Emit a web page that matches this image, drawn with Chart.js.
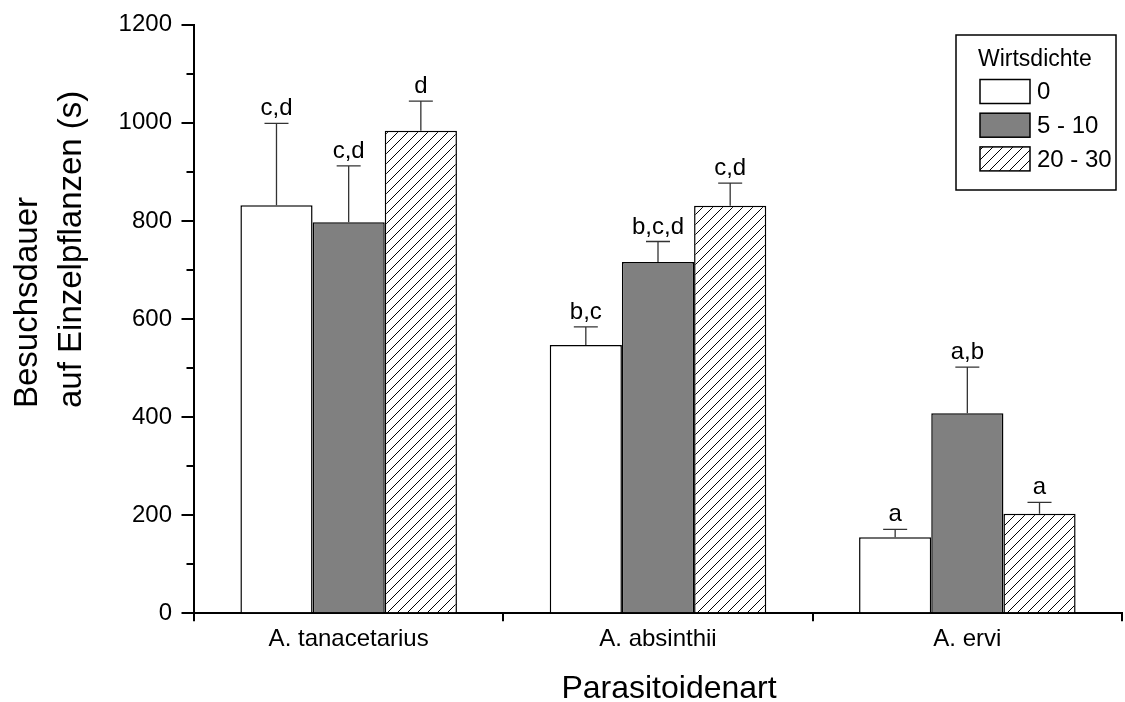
<!DOCTYPE html>
<html><head><meta charset="utf-8">
<script src="https://cdn.jsdelivr.net/npm/chart.js@4.4.0/dist/chart.umd.min.js"></script>
<style>html,body{margin:0;padding:0;background:#fff;overflow:hidden}#wrap{width:1125px;height:702px}</style>
</head><body><div id="wrap"><canvas id="c" width="1125" height="702"></canvas></div>
<script>
// ---- data ----
const categories = ['A. tanacetarius', 'A. absinthii', 'A. ervi'];
const seriesNames = ['0', '5 - 10', '20 - 30'];
const means0 = [832, 547, 155];
const means510 = [797, 716, 408];
const means2030 = [984, 831, 203];
const se0 = [167, 37, 16];
const se510 = [115, 42, 94];
const se2030 = [60, 46, 23];
const letters0 = ['c,d', 'b,c', 'a'];
const letters510 = ['c,d', 'b,c,d', 'a,b'];
const letters2030 = ['d', 'c,d', 'a'];
const yTicks = [0, 200, 400, 600, 800, 1000, 1200];
const yMinorTicks = [100, 300, 500, 700, 900, 1100];
const legendTitle = 'Wirtsdichte';
const xTitle = 'Parasitoidenart';
const yTitle = ['Besuchsdauer', 'auf Einzelpflanzen (s)'];

const FONT = "'Liberation Sans', Arial, Helvetica, sans-serif";
Chart.defaults.font.family = FONT;
Chart.defaults.color = '#000';

function hatch() {
  const c = document.createElement('canvas');
  c.width = 10; c.height = 10;
  const g = c.getContext('2d');
  g.fillStyle = '#fff'; g.fillRect(0, 0, 10, 10);
  g.strokeStyle = '#000'; g.lineWidth = 1;
  g.beginPath();
  g.moveTo(0, 10); g.lineTo(10, 0);
  g.moveTo(-1, 1); g.lineTo(1, -1);
  g.moveTo(9, 11); g.lineTo(11, 9);
  g.stroke();
  return g.createPattern(c, 'repeat');
}
const ctx = document.getElementById('c').getContext('2d');
const hatchPat = hatch();

const errs = [se0, se510, se2030];
const letters = [letters0, letters510, letters2030];

const extras = {
  id: 'extras',
  afterDatasetsDraw(chart) {
    const g = chart.ctx;
    const ys = chart.scales.y;
    g.save();
    chart.data.datasets.forEach((ds, i) => {
      const meta = chart.getDatasetMeta(i);
      meta.data.forEach((bar, j) => {
        const top = ys.getPixelForValue(ds.data[j] + errs[i][j]);
        g.strokeStyle = '#333'; g.lineWidth = 1.3;
        g.beginPath();
        g.moveTo(bar.x, bar.y); g.lineTo(bar.x, top);
        g.moveTo(bar.x - 12, top); g.lineTo(bar.x + 12, top);
        g.stroke();
        g.fillStyle = '#000';
        g.font = '24px ' + FONT;
        g.textAlign = 'center'; g.textBaseline = 'alphabetic';
        g.fillText(letters[i][j], bar.x, top - 8);
      });
    });
    // minor y ticks
    g.strokeStyle = '#000'; g.lineWidth = 2;
    const xr = ys.right;
    g.beginPath();
    yMinorTicks.forEach(v => {
      const p = Math.round(ys.getPixelForValue(v));
      g.moveTo(xr - 7.5, p); g.lineTo(xr, p);
    });
    g.stroke();
    g.restore();
  },
  afterDraw(chart) {
    const g = chart.ctx;
    g.save();
    // axis titles
    g.fillStyle = '#000';
    g.font = '32px ' + FONT;
    g.textAlign = 'center'; g.textBaseline = 'alphabetic';
    g.fillText(xTitle, 669, 698);
    g.save();
    g.translate(37, 408);
    g.rotate(-Math.PI / 2);
    g.font = '33px ' + FONT;
    g.textAlign = 'left';
    g.fillText(yTitle[0], 0, 0);
    g.fillText(yTitle[1], 0, 44);
    g.restore();
    // legend
    g.strokeStyle = '#000'; g.lineWidth = 1.5;
    g.strokeRect(956, 35, 160, 155);
    g.fillStyle = '#000';
    g.font = '23px ' + FONT;
    g.textAlign = 'left'; g.textBaseline = 'alphabetic';
    g.fillText(legendTitle, 978, 66);
    chart.data.datasets.forEach((ds, i) => {
      const y = 79.5 + i * 33.7;
      g.fillStyle = ds.backgroundColor;
      g.fillRect(980, y, 50, 24);
      g.strokeStyle = '#000'; g.lineWidth = 1.5;
      g.strokeRect(980, y, 50, 24);
      g.fillStyle = '#000';
      g.font = '24px ' + FONT;
      g.textBaseline = 'middle';
      g.fillText(ds.label, 1037, y + 13);
    });
    g.restore();
  }
};

new Chart(ctx, {
  type: 'bar',
  data: {
    labels: categories,
    datasets: [
      { label: seriesNames[0], data: means0, backgroundColor: '#ffffff', borderColor: '#000', borderWidth: 1.5 },
      { label: seriesNames[1], data: means510, backgroundColor: '#808080', borderColor: '#000', borderWidth: 1.5 },
      { label: seriesNames[2], data: means2030, backgroundColor: hatchPat, borderColor: '#000', borderWidth: 1.5 }
    ]
  },
  options: {
    responsive: false,
    animation: false,
    devicePixelRatio: 1,
    layout: { padding: { left: 0, right: 3, top: 24.7, bottom: 0 } },
    datasets: { bar: { categoryPercentage: 0.7, barPercentage: 1.0 } },
    plugins: { legend: { display: false }, tooltip: { enabled: false } },
    scales: {
      x: {
        grid: { drawOnChartArea: false, offset: true, drawTicks: true, tickLength: 8, color: '#000', lineWidth: 2 },
        border: { display: true, color: '#000', width: 2 },
        ticks: { font: { size: 24 }, padding: 4, color: '#000' },
        title: { display: false },
        afterFit(s) { s.height = 88.7; }
      },
      y: {
        min: 0, max: 1200,
        afterBuildTicks(s) { s.ticks = yTicks.map(v => ({ value: v })); },
        grid: { drawOnChartArea: false, drawTicks: true, tickLength: 12.5, color: '#000', lineWidth: 2 },
        border: { display: true, color: '#000', width: 2 },
        ticks: { font: { size: 24 }, padding: 9.5, color: '#000', callback: v => String(v) },
        title: { display: false },
        afterFit(s) { s.width = 194; }
      }
    }
  },
  plugins: [extras]
});
</script>
</body></html>
